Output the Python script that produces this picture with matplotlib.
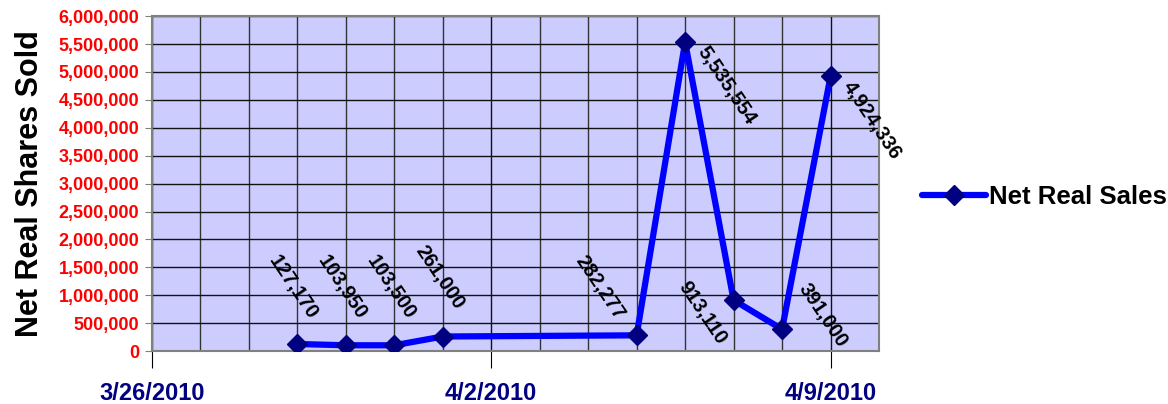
import matplotlib
matplotlib.use("Agg")
import matplotlib.pyplot as plt
import matplotlib.dates as mdates
from matplotlib.ticker import FuncFormatter
import datetime as dt

plt.rcParams['font.family'] = ['Liberation Sans', 'DejaVu Sans']

# data
dates = ["2010-03-29", "2010-03-30", "2010-03-31", "2010-04-01", "2010-04-05",
         "2010-04-06", "2010-04-07", "2010-04-08", "2010-04-09"]
net_real_sales = [127170, 103950, 103500, 261000, 282277,
                  5535554, 913110, 391000, 4924336]
tick_dates = ["2010-03-26", "2010-04-02", "2010-04-09"]
series_name = "Net Real Sales"

# label placement relative to each point (pixels)
label_offsets = [(-4, 57), (-4, 58), (-3, 58), (-3, 59), (-37, 48),
                 (41, -43), (-31, -13), (41, 14), (41, -44)]

x = [dt.datetime.strptime(d, "%Y-%m-%d") for d in dates]
xt = [dt.datetime.strptime(d, "%Y-%m-%d") for d in tick_dates]

fig = plt.figure(figsize=(11.68, 4.04), dpi=100)
ax = fig.add_axes([0.130, 0.131, 0.6226, 0.829])
ax.set_facecolor("#CCCCFF")

ax.plot(x, net_real_sales, color="#0000FF", lw=4.5, marker="D", ms=10,
        mfc="#000080", mec="#000080", label=series_name, zorder=3,
        solid_capstyle="round")

for xi, yi, (dx, dy) in zip(x, net_real_sales, label_offsets):
    ax.annotate(f"{yi:,}", (xi, yi), xytext=(dx, dy), textcoords="offset pixels",
                ha="center", va="center", rotation=-56, rotation_mode="anchor",
                fontsize=14.5, fontweight="bold", color="black", zorder=4)

ax.set_xlim(dt.datetime(2010, 3, 26), dt.datetime(2010, 4, 10))
ax.set_ylim(0, 6000000)
ax.set_yticks(range(0, 6000001, 500000))
ax.yaxis.set_major_formatter(FuncFormatter(lambda v, p: f"{int(v):,}"))

ax.set_xticks(xt)
ax.xaxis.set_major_formatter(mdates.DateFormatter("%-m/%-d/%Y"))
ax.xaxis.set_minor_locator(mdates.DayLocator())

ax.grid(which="major", axis="both", color="#111111", lw=1)
ax.grid(which="minor", axis="x", color="#333333", lw=1)
ax.set_axisbelow(True)

for s in ax.spines.values():
    s.set_color("#808080")
    s.set_linewidth(1.5)

ax.tick_params(axis="y", length=5, color="#808080", labelcolor="#FF0000",
               labelsize=13, pad=4)
ax.tick_params(axis="x", which="major", length=12, color="black",
               labelcolor="#000080", labelsize=17, pad=10)
ax.tick_params(axis="x", which="minor", length=0)
for lab in ax.get_yticklabels():
    lab.set_fontweight("bold")
for lab in ax.get_xticklabels():
    lab.set_fontweight("bold")

ax.set_ylabel("Net Real Shares Sold", fontsize=22, fontweight="bold", labelpad=10)

leg = ax.legend(loc="center left", bbox_to_anchor=(1.045, 0.46), frameon=False,
                prop={"size": 18.5, "weight": "bold"}, handlelength=2.5,
                handletextpad=0.1, borderaxespad=0)

fig.savefig("out.png", dpi=100)
